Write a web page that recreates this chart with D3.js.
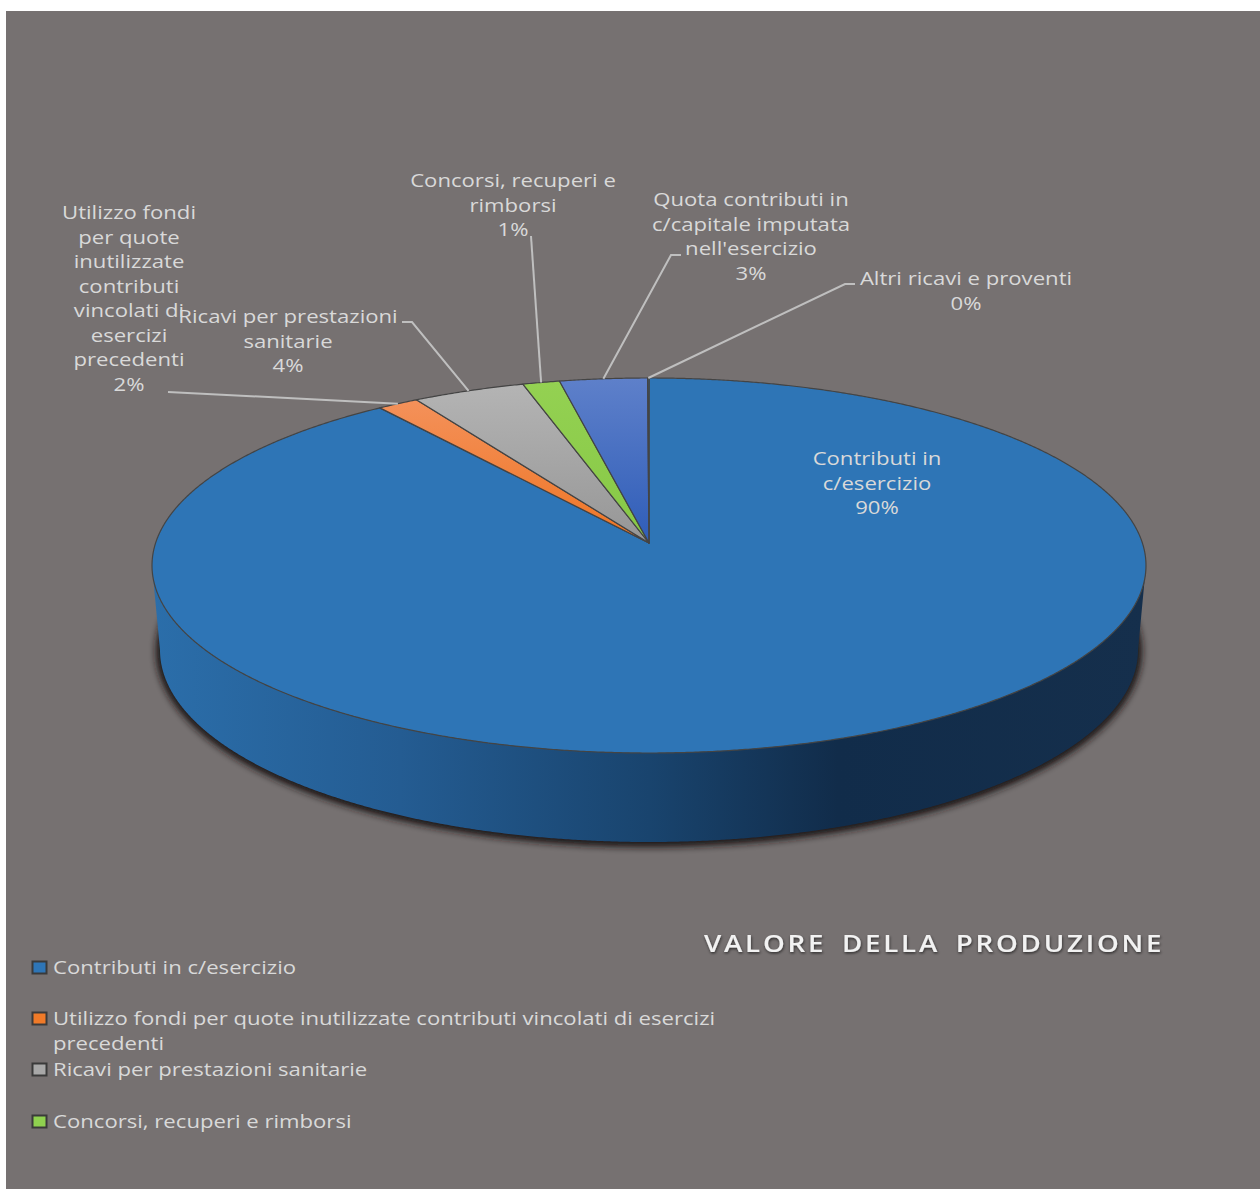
<!DOCTYPE html>
<html>
<head>
<meta charset="utf-8">
<script src="https://cdn.jsdelivr.net/npm/d3@7"></script>
<style>
  html, body { margin: 0; padding: 0; background: #fff; }
  svg { display: block; }
  text { font-family: "Open Sans", sans-serif; fill: #d9d9d9; }
</style>
</head>
<body>
<script>
// valori
const categories = [
  "Contributi in c/esercizio",
  "Utilizzo fondi per quote inutilizzate contributi vincolati di esercizi precedenti",
  "Ricavi per prestazioni sanitarie",
  "Concorsi, recuperi e rimborsi",
  "Quota contributi in c/capitale imputata nell'esercizio",
  "Altri ricavi e proventi"
];
const values = [89.8, 1.5, 4.1, 1.35, 3.2, 0.05];
const percentLabels = ["90%", "2%", "4%", "1%", "3%", "0%"];
const titleText = "VALORE DELLA PRODUZIONE";

// righe delle etichette, a capo come nell'originale
const labelLines = [
  ["Contributi in", "c/esercizio"],
  ["Utilizzo fondi", "per quote", "inutilizzate", "contributi", "vincolati di", "esercizi", "precedenti"],
  ["Ricavi per prestazioni", "sanitarie"],
  ["Concorsi, recuperi e", "rimborsi"],
  ["Quota contributi in", "c/capitale imputata", "nell'esercizio"],
  ["Altri ricavi e proventi"]
];
const legendLines = [
  ["Contributi in c/esercizio"],
  ["Utilizzo fondi per quote inutilizzate contributi vincolati di esercizi", "precedenti"],
  ["Ricavi per prestazioni sanitarie"],
  ["Concorsi, recuperi e rimborsi"]
];

const sliceColors = [
  ["#2e75b6", "#2e75b6"],
  ["#f4915a", "#ee7524"],
  ["#b4b4b4", "#969696"],
  ["#94d152", "#86c846"],
  ["#5e80ca", "#2f5db8"],
  ["#2e75b6", "#2e75b6"]
];
const legendColors = ["#2e75b6", "#f07a28", "#a8a8a8", "#8fd14f"];

// layout
const width = 1260, height = 1189;
const cx = 649, cy = 543;   // vertice della torta
const k = 0.12;             // prospettiva
const stretch = 1.165;      // il testo nell'originale e' allargato
const labelPos = [[877, 458], [129, 212], [288, 316], [513, 180], [751, 199], [966, 278]];
const lineStep = 24.5;
const leaderStart = [null, [[168, 392]], [[402, 322], [412, 322]], [[531, 236]], [[681, 255], [671, 255]], [[855, 284], [845, 284]]];
const legendY = [967, 1018, 1069, 1121];

const xScale = d3.scaleLinear().domain([-1, 1]).range([cx - 493.4, cx + 493.4]);
const yScale = d3.scaleLinear().domain([-1, 1]).range([cy - 184.8, cy + 184.8]);

// angolo della torta -> punto sul piano in prospettiva
function project(a) {
  const u = Math.sin(a), v = -Math.cos(a), w = 1 - k * v;
  return [xScale(u / w), yScale(v / w)];
}
function bottomRim(t) {
  return [cx + 489 * Math.cos(t), 650 + 192 * Math.sin(t)];
}

const svg = d3.select("body").append("svg").attr("width", width).attr("height", height);
svg.append("rect").attr("x", 6).attr("y", 11).attr("width", width - 6).attr("height", height - 11).attr("fill", "#767171");

const defs = svg.append("defs");
defs.append("filter").attr("id", "blur").attr("x", "-5%").attr("y", "-5%").attr("width", "110%").attr("height", "110%")
  .append("feGaussianBlur").attr("stdDeviation", 3.5);
const titleShadow = defs.append("filter").attr("id", "titleShadow");
titleShadow.append("feDropShadow").attr("dx", 0.5).attr("dy", 1.5).attr("stdDeviation", 1.2)
  .attr("flood-color", "#000").attr("flood-opacity", 0.6);

const wallGrad = defs.append("linearGradient").attr("id", "wallGrad")
  .attr("gradientUnits", "userSpaceOnUse").attr("x1", 152).attr("x2", 1146).attr("y1", 0).attr("y2", 0);
[[0, "#2b6eaa"], [0.25, "#245c92"], [0.5, "#19446e"], [0.69, "#112c4a"], [1, "#152f4c"]].forEach(s => {
  wallGrad.append("stop").attr("offset", s[0]).attr("stop-color", s[1]);
});
sliceColors.forEach((c, i) => {
  const g = defs.append("linearGradient").attr("id", "slice" + i).attr("x1", 0).attr("x2", 0).attr("y1", 0).attr("y2", 1);
  g.append("stop").attr("offset", 0).attr("stop-color", c[0]);
  g.append("stop").attr("offset", 1).attr("stop-color", c[1]);
});

const line = d3.line();
const aRight = Math.acos(-k), aLeft = 2 * Math.PI - aRight;

// ombra e fianco
const bottomPts = d3.range(0, 2 * Math.PI, 0.01).map(bottomRim);
svg.append("path").attr("d", line(bottomPts) + "Z")
  .attr("fill", "#1a1818").attr("stroke", "#1a1818").attr("stroke-width", 8)
  .attr("transform", "translate(0,1)").attr("filter", "url(#blur)");

const wallPts = d3.range(aRight, aLeft, 0.005).map(project)
  .concat(d3.range(Math.PI, 0, -0.005).map(bottomRim));
svg.append("path").attr("d", line(wallPts) + "Z").attr("fill", "url(#wallGrad)");

// fette
const pie = d3.pie().sort(null).value(d => d).startAngle(0).endAngle(2 * Math.PI);
const arcs = pie(values);
svg.append("g").selectAll("path").data(arcs).join("path")
  .attr("d", d => {
    const n = Math.max(2, Math.ceil((d.endAngle - d.startAngle) / 0.005));
    const pts = d3.range(n + 1).map(i => project(d.startAngle + (d.endAngle - d.startAngle) * i / n));
    return line([[cx, cy]].concat(pts)) + "Z";
  })
  .attr("fill", (d, i) => `url(#slice${i})`)
  .attr("stroke", "#444")
  .attr("stroke-width", 1.2)
  .attr("stroke-linejoin", "round");

// linee guida
svg.append("g").selectAll("path").data(arcs.slice(1)).join("path")
  .attr("d", (d, i) => line(leaderStart[i + 1].concat([project((d.startAngle + d.endAngle) / 2)])))
  .attr("fill", "none").attr("stroke", "#bfbfbf").attr("stroke-width", 2);

// testo allargato in orizzontale
function wideText(x, y, str, anchor) {
  return svg.append("text")
    .attr("transform", `translate(${x},${y}) scale(${stretch},1)`)
    .attr("text-anchor", anchor)
    .attr("font-size", 19)
    .text(str);
}

// etichette
labelLines.forEach((rows, i) => {
  rows.concat([percentLabels[i]]).forEach((r, j) => {
    wideText(labelPos[i][0], labelPos[i][1] + 7 + j * lineStep, r, "middle");
  });
});

// legenda
legendLines.forEach((rows, i) => {
  svg.append("rect").attr("x", 32.5).attr("y", legendY[i] - 5.5).attr("width", 14).attr("height", 12)
    .attr("fill", legendColors[i]).attr("stroke", "#3a3a3a").attr("stroke-width", 2);
  rows.forEach((r, j) => {
    wideText(53, legendY[i] + 7 + j * lineStep, r, "start");
  });
});

// titolo
svg.append("text")
  .attr("transform", "translate(704,952) scale(1.155,1)")
  .attr("font-size", 24).attr("font-weight", 600).attr("letter-spacing", 2.4).attr("word-spacing", 5)
  .style("fill", "#f2f2f2").attr("filter", "url(#titleShadow)")
  .text(titleText);
</script>
</body>
</html>
